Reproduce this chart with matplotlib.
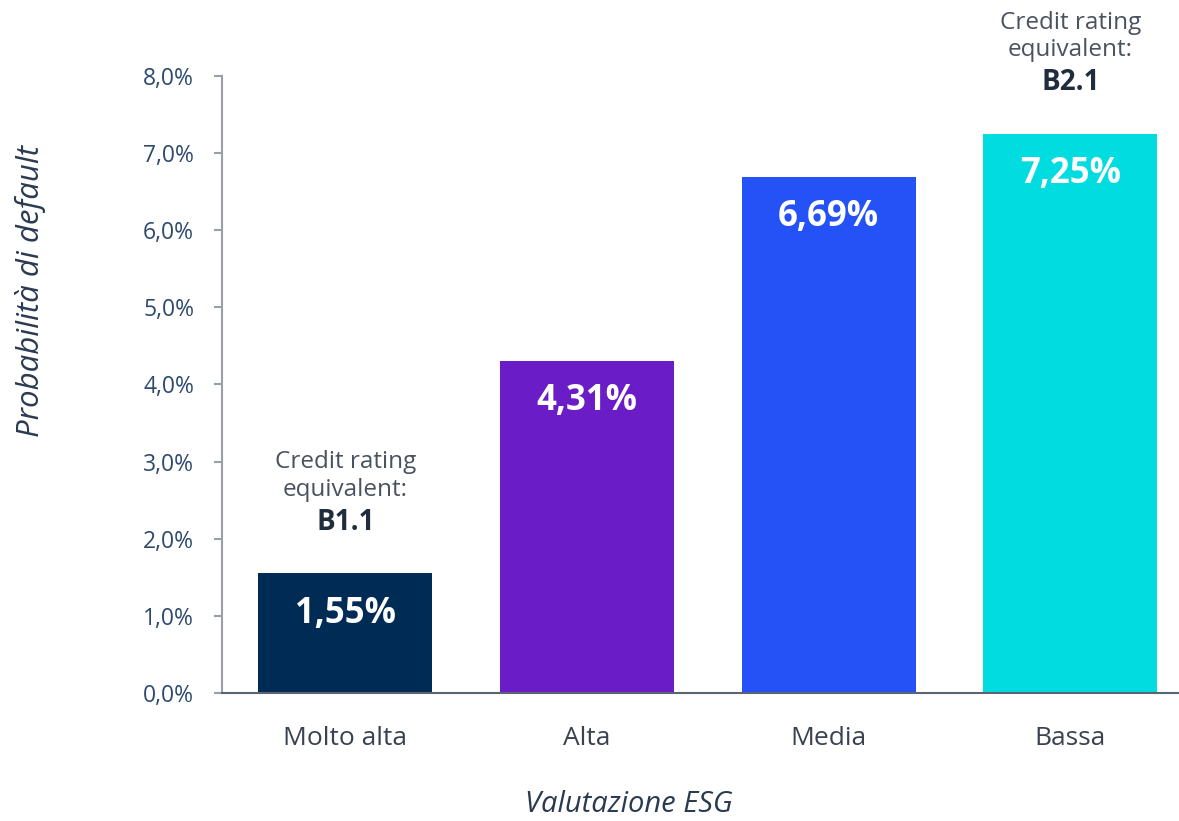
import matplotlib
matplotlib.use('Agg')
import matplotlib.pyplot as plt
from matplotlib.ticker import FuncFormatter

# Data
categories = ['Molto alta', 'Alta', 'Media', 'Bassa']
default_prob = [1.55, 4.31, 6.69, 7.25]
bar_colors = ['#002B55', '#6A1CC7', '#2452F7', '#00DCE0']
ratings = {0: 'B1.1', 3: 'B2.1'}

plt.rcParams['font.family'] = ['Open Sans', 'DejaVu Sans']

fig = plt.figure(figsize=(11.79, 8.21), dpi=100)
ax = fig.add_axes([0.1883, 0.156, 0.8117, 0.7514])

x = range(len(categories))
ax.bar(x, default_prob, width=0.72, color=bar_colors)

# Value labels inside the bars
for i, v in enumerate(default_prob):
    ax.annotate(f'{v:.2f}%'.replace('.', ','), (i, v), xytext=(0, -29),
                textcoords='offset points', ha='center', va='center',
                color='white', fontsize=25, fontweight='bold')

# Credit rating notes above the first and last bars
for i, r in ratings.items():
    ax.annotate('Credit rating\nequivalent:', (i, default_prob[i]),
                xytext=(0, 70), textcoords='offset points',
                ha='center', va='center', color='#4A5260', fontsize=17.5,
                linespacing=1.2)
    ax.annotate(r, (i, default_prob[i]), xytext=(0, 37),
                textcoords='offset points', ha='center', va='center',
                color='#1F2D3D', fontsize=20, fontweight='bold')

ax.set_xlim(-0.51, 3.45)
ax.set_ylim(0, 8)
ax.set_yticks(range(0, 9))
ax.yaxis.set_major_formatter(FuncFormatter(lambda v, p: f'{v:.1f}%'.replace('.', ',')))
ax.set_xticks(list(x))
ax.set_xticklabels(categories)

ax.spines['top'].set_visible(False)
ax.spines['right'].set_visible(False)
ax.spines['left'].set_color('#9A9EA6')
ax.spines['left'].set_linewidth(1.5)
ax.spines['bottom'].set_color('#5A6472')
ax.spines['bottom'].set_linewidth(1.5)

ax.tick_params(axis='y', colors='#9A9EA6', labelcolor='#2E4A6E', labelsize=16.5,
               length=6, width=1.5, pad=14)
ax.tick_params(axis='x', length=0, labelcolor='#3A4250', labelsize=19, pad=24)

ax.set_ylabel('Probabilità di default', fontsize=22.5, style='italic',
              color='#2A3A50', va='center', ha='center')
ax.yaxis.set_label_coords(-0.2006, 0.652)
ax.set_xlabel('Valutazione ESG', fontsize=21, style='italic',
              color='#2A3A50', va='center', ha='center')
ax.xaxis.set_label_coords(0.425, -0.1815)

fig.savefig('out.png', dpi=100)
